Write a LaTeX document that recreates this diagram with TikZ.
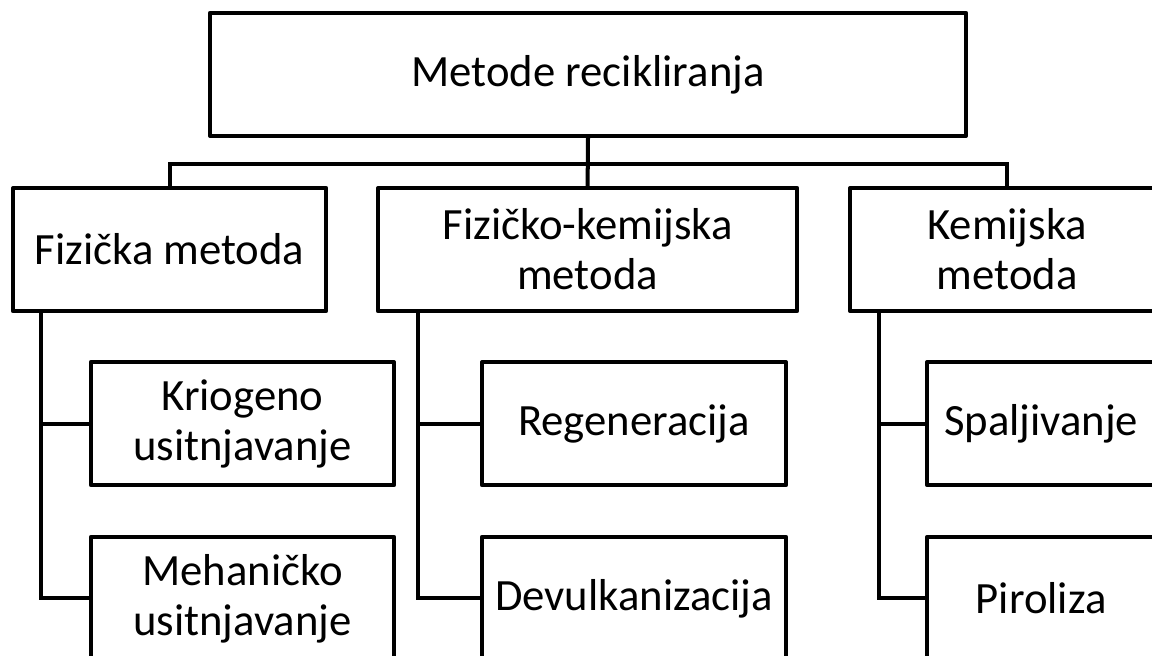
\documentclass[tikz,border=0pt]{standalone}
\usepackage{fontspec}
\setmainfont{Carlito}
\usepackage{tikz}
\tikzset{box/.style={draw, line width=2.85pt, line join=round, minimum height=3.08cm, inner sep=2pt, align=center, font=\fontsize{31.8}{35.6}\selectfont},
  link/.style={line width=2.85pt}}

\begin{document}
\begin{tikzpicture}
      \clip (0, 0) rectangle (28.8, -16.4);

      \node[box, minimum width=18.9cm] (top) at (14.70, -1.86) {Metode recikliranja};

      \node[box, minimum width=7.83cm] (fiz) at (4.24, -6.24) {Fizička metoda};
      \node[box, minimum width=10.48cm] (fkm) at (14.69, -6.24) {Fizičko-kemijska\\metoda};
      \node[box, minimum width=7.85cm] (kem) at (25.18, -6.24) {Kemijska\\metoda};

      \node[box, minimum width=7.58cm] (kri) at (6.06, -10.59) {Kriogeno\\usitnjavanje};
      \node[box, minimum width=7.58cm] (meh) at (6.06, -14.96) {Mehaničko\\usitnjavanje};
      \node[box, minimum width=7.60cm] (reg) at (15.85, -10.59) {Regeneracija};
      \node[box, minimum width=7.60cm] (dev) at (15.85, -14.96) {Devulkanizacija};
      \node[box, minimum width=5.70cm] (spa) at (26.03, -10.59) {Spaljivanje};
      \node[box, minimum width=5.70cm] (pir) at (26.03, -14.96) {Piroliza};

      \draw[link] (top.south) -- (fkm.north);
      \draw[link] (top.south) ++(0, -0.65) -| (fiz.north);
      \draw[link] (top.south) ++(0, -0.65) -| (kem.north);

      \draw[link] ([xshift=0.75cm]fiz.south west) |- (kri.west);
      \draw[link] ([xshift=0.75cm]fiz.south west) |- (meh.west);
      \draw[link] ([xshift=1.05cm]fkm.south west) |- (reg.west);
      \draw[link] ([xshift=1.05cm]fkm.south west) |- (dev.west);
      \draw[link] ([xshift=0.78cm]kem.south west) |- (spa.west);
      \draw[link] ([xshift=0.78cm]kem.south west) |- (pir.west);
    \end{tikzpicture}
\end{document}
